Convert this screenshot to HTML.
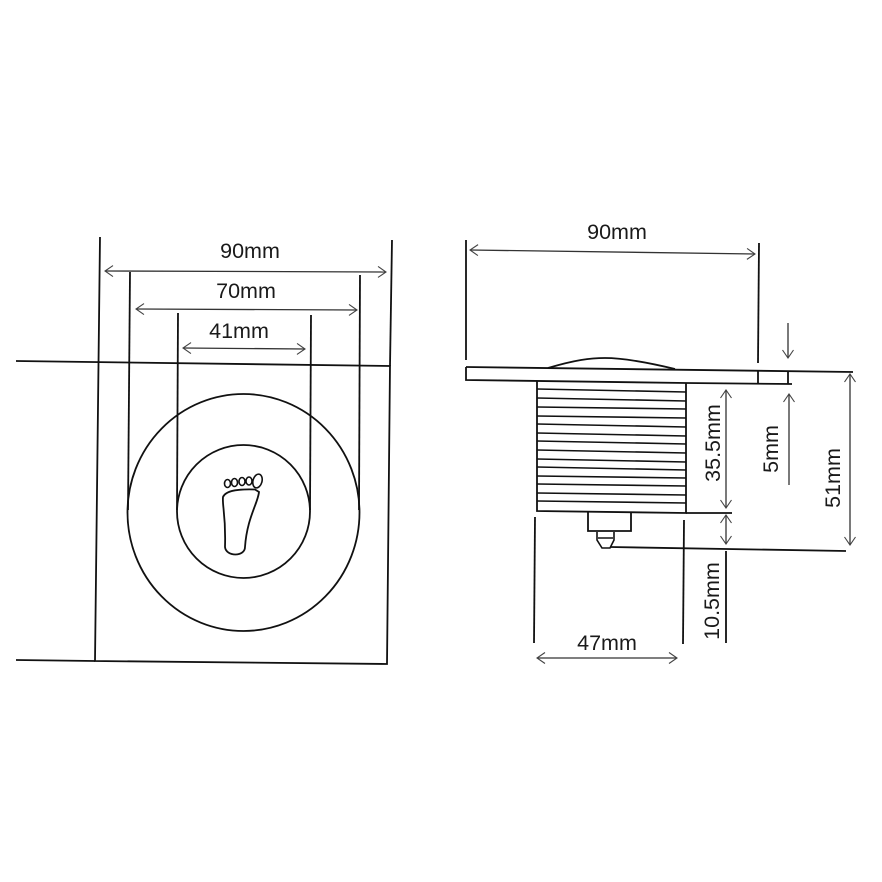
<!DOCTYPE html>
<html>
<head>
<meta charset="utf-8">
<style>
html,body{margin:0;padding:0;background:#fff;width:882px;height:882px;overflow:hidden}
svg{display:block}
text{font-family:"Liberation Sans",sans-serif;font-size:21.5px;fill:#1a1a1a;text-anchor:middle}
.l{fill:none;stroke:#111;stroke-width:1.8}
.t{fill:none;stroke:#111;stroke-width:1.6}
.a{fill:none;stroke:#333;stroke-width:1.3;marker-end:url(#m);}
.b{fill:none;stroke:#333;stroke-width:1.3;marker-start:url(#s);marker-end:url(#m);}
</style>
</head>
<body>
<svg width="882" height="882" viewBox="0 0 882 882" xmlns="http://www.w3.org/2000/svg">
<defs>
<marker id="m" markerUnits="userSpaceOnUse" markerWidth="14" markerHeight="14" refX="10" refY="7" orient="auto">
<path d="M2 1.5L10 7L2 12.5" fill="none" stroke="#444" stroke-width="1.1"/>
</marker>
<marker id="s" markerUnits="userSpaceOnUse" markerWidth="14" markerHeight="14" refX="4" refY="7" orient="auto">
<path d="M12 1.5L4 7L12 12.5" fill="none" stroke="#444" stroke-width="1.1"/>
</marker>
</defs>
<rect width="882" height="882" fill="#fff"/>

<!-- Left view -->
<path class="l" d="M16 361L390 366L387 664L95 661L100 237"/>
<path class="l" d="M16 660L95 661"/>
<path class="l" d="M392 240L390 366"/>
<path class="l" d="M130 272L128 510"/>
<path class="l" d="M360 275L359 510"/>
<path class="l" d="M178 313L177 510"/>
<path class="l" d="M311 315L310 510"/>
<ellipse class="l" cx="243.5" cy="512.5" rx="116" ry="118.5"/>
<ellipse class="l" cx="243.5" cy="511.5" rx="66.5" ry="66.5"/>

<path class="b" d="M105 271L386 272"/>
<path class="b" d="M136 309L357 310"/>
<path class="b" d="M183 348L305 349"/>
<text x="250" y="258">90mm</text>
<text x="246" y="298">70mm</text>
<text x="239" y="338">41mm</text>

<!-- Foot -->
<path class="l" d="M223 497C226 490 240 489 255 489.500L259 492C258 503 247 518 245 547C245 557 226 557 225 547C226 515 222 505 223 497Z"/>
<ellipse class="t" cx="257.500" cy="481" rx="4.500" ry="7" transform="rotate(15 257.500 481)"/>
<ellipse class="t" cx="227.500" cy="483.500" rx="3" ry="4"/>
<ellipse class="t" cx="234.500" cy="482.500" rx="3" ry="4"/>
<ellipse class="t" cx="242" cy="481.500" rx="3" ry="4"/>
<ellipse class="t" cx="249" cy="481" rx="3" ry="4"/>

<!-- Right view: plate -->
<path class="l" d="M466 240V360"/>
<path class="l" d="M759 243L758 363"/>
<path class="b" d="M470 250L755 254"/>
<text x="617" y="239">90mm</text>
<path class="l" d="M466 367L853 372"/>
<path class="l" d="M466 367V380L686 383L792 384"/>
<path class="l" d="M758 370V384"/>
<path class="l" d="M788 371V384"/>
<path class="l" d="M548 368C575 360 590 358 605 358C625 358 650 363 675 369"/>

<!-- Body -->
<path class="l" d="M537 381V511L686 513V383"/>
<path class="t" d="M537 389L686 392M537 398L686 401M537 407L686 409M537 416L686 418M537 424L686 427M537 433L686 436M537 441L686 444M537 450L686 453M537 459L686 462M537 467L686 470M537 476L686 478M537 484L686 486M537 493L686 495M537 501L686 503"/>
<!-- Pin -->
<path class="l" d="M588 512V531H631V513"/>
<path class="t" d="M597 532V540L602 548H610L614 540V532M598 538H613"/>
<path class="l" d="M610 547L846 551"/>
<path class="l" d="M686 513L732 513"/>

<!-- Extension lines -->
<path class="l" d="M535 517L534 643"/>
<path class="l" d="M684 520L683 644"/>
<path class="l" d="M726 551V643"/>
<path class="b" d="M537 658L677 658"/>
<text x="607" y="650">47mm</text>

<!-- Vertical dimensions -->
<path class="b" d="M726 390V508"/>
<path class="b" d="M726 515V544"/>
<path class="b" d="M850 374L850 545"/>
<path class="a" d="M788 323V358"/>
<path class="a" d="M789 485V394"/>

<text transform="translate(720 443) rotate(-90)">35.5mm</text>
<text transform="translate(719 601) rotate(-90)">10.5mm</text>
<text transform="translate(778 449) rotate(-90)">5mm</text>
<text transform="translate(840 478) rotate(-90)">51mm</text>
</svg>
</body>
</html>
